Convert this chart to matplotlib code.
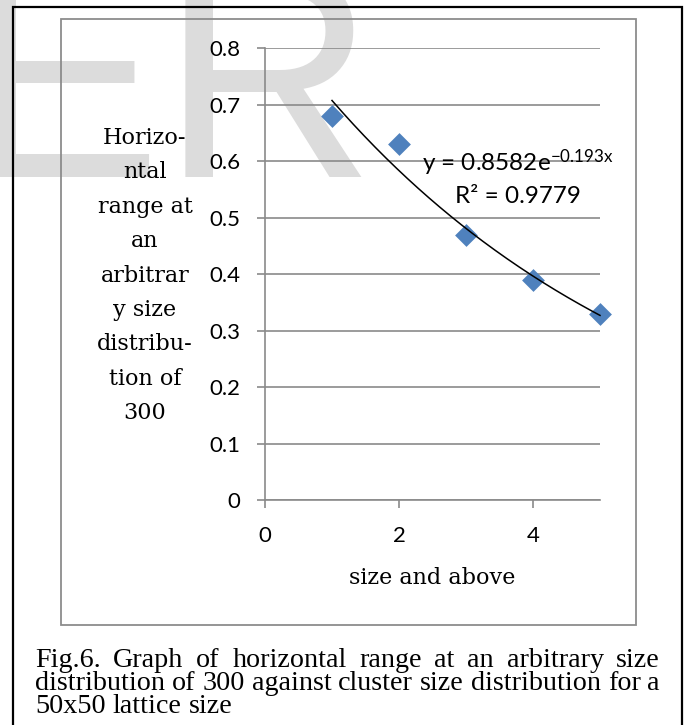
import numpy as np
import matplotlib
matplotlib.use('Agg')
import matplotlib.pyplot as plt
from matplotlib.patches import Rectangle
from matplotlib.textpath import TextPath
from matplotlib.font_manager import FontProperties

# data
cluster_size = [1, 2, 3, 4, 5]
horiz_range = [0.68, 0.63, 0.47, 0.39, 0.33]
fit_a, fit_b = 0.8582, -0.193          # Excel exponential trendline y = a*e^(b*x)
r_squared = 0.9779
xticks = [0, 2, 4]
yticks = [0, 0.1, 0.2, 0.3, 0.4, 0.5, 0.6, 0.7, 0.8]
ytick_labels = ['0', '0.1', '0.2', '0.3', '0.4', '0.5', '0.6', '0.7', '0.8']
ylabel_lines = ['Horizo-', 'ntal', 'range at', 'an', 'arbitrar', 'y size',
                'distribu-', 'tion of', '300']
xlabel = 'size and above'
caption_lines = ['Fig.6. Graph of horizontal range at an arbitrary size',
                 'distribution of 300 against cluster size distribution for a',
                 '50x50 lattice size']

W, H = 686, 725
plt.rcParams['mathtext.fontset'] = 'custom'
plt.rcParams['mathtext.rm'] = 'Lato'
plt.rcParams['mathtext.default'] = 'regular'

fig = plt.figure(figsize=(W / 100, H / 100), dpi=100)
fx = lambda px: px / W
fy = lambda py: 1 - py / H

# watermark letters, placed by their glyph edges
wm_prop = FontProperties(family='Liberation Sans')
wm_px = 204 / 0.688                     # cap height ~204 px
for letter, glyph_left in [('E', -12), ('R', 185)]:
    xmin = TextPath((0, 0), letter, size=wm_px, prop=wm_prop).get_extents().x0
    fig.text(fx(glyph_left - xmin), fy(177), letter, fontsize=wm_px * 0.72,
             family='Liberation Sans', color='#dcdcdc', va='baseline', ha='left', zorder=-5)

# outer and inner frames
fig.add_artist(Rectangle((fx(13), fy(740)), fx(682) - fx(13), fy(7) - fy(740),
                         transform=fig.transFigure, fill=False, ec='black', lw=1.6, zorder=-1))
fig.add_artist(Rectangle((fx(61), fy(625)), fx(636) - fx(61), fy(19) - fy(625),
                         transform=fig.transFigure, fill=False, ec='#8c8c8c', lw=1.3, zorder=-1))

ax = fig.add_axes([fx(265), fy(500), fx(600) - fx(265), fy(48.3) - fy(500)])
ax.patch.set_visible(False)
grey = '#8a8a8a'

ax.scatter(cluster_size, horiz_range, marker='D', s=135, color='#4f81bd', zorder=3,
           linewidths=0, clip_on=False)
xs = np.linspace(cluster_size[0], cluster_size[-1], 200)
ax.plot(xs, fit_a * np.exp(fit_b * xs), color='black', lw=1.1, zorder=4, clip_on=False)

ax.set_xlim(0, 5)
ax.set_ylim(0, 0.8)
ax.set_xticks(xticks)
ax.set_yticks(yticks)
ax.set_yticklabels(ytick_labels)
ax.grid(axis='y', color=grey, lw=1.2)
ax.set_axisbelow(True)
for s in ['top', 'right']:
    ax.spines[s].set_visible(False)
for s in ['left', 'bottom']:
    ax.spines[s].set_color(grey)
    ax.spines[s].set_linewidth(1.2)
ax.tick_params(axis='both', length=5.8, width=1.2, color=grey, labelsize=16)
ax.tick_params(axis='y', pad=12)
ax.tick_params(axis='x', pad=13)
for lab in ax.get_xticklabels() + ax.get_yticklabels():
    lab.set_family('Lato')

ax.text(3.78, 0.5975, f'y = {fit_a}e$^{{{fit_b}x}}$',
        ha='center', va='center', fontsize=17.5, family='Lato', zorder=5)
ax.text(3.78, 0.537, f'R² = {r_squared}', ha='center', va='center',
        fontsize=17.5, family='Lato', zorder=5)

# axis titles
for i, line in enumerate(ylabel_lines):
    fig.text(fx(145), fy(138 + i * 34.4), line, ha='center', va='center',
             fontsize=16, family='DejaVu Serif')
fig.text(fx(432), fy(578), xlabel, ha='center', va='center', fontsize=16, family='DejaVu Serif')

# justified caption
renderer = fig.canvas.get_renderer()
left, right = 35, 660
cap_fs = 17
probe = fig.text(0, 0, caption_lines[1], fontsize=cap_fs, family='Liberation Serif')
cap_fs = cap_fs * (right - left) / probe.get_window_extent(renderer).width
probe.remove()
baselines = [667, 690, 713]
for i, line in enumerate(caption_lines):
    words = line.split(' ')
    texts = [fig.text(0, fy(baselines[i]), w, fontsize=cap_fs, family='Liberation Serif',
                      va='baseline', ha='left') for w in words]
    widths = [t.get_window_extent(renderer).width for t in texts]
    if i < len(caption_lines) - 1:
        gap = (right - left - sum(widths)) / (len(words) - 1)
    else:
        gap = cap_fs * 100 / 72 * 0.25
    x = left
    for t, w in zip(texts, widths):
        t.set_x(fx(x))
        x += w + gap

fig.savefig('out.png', dpi=100)
